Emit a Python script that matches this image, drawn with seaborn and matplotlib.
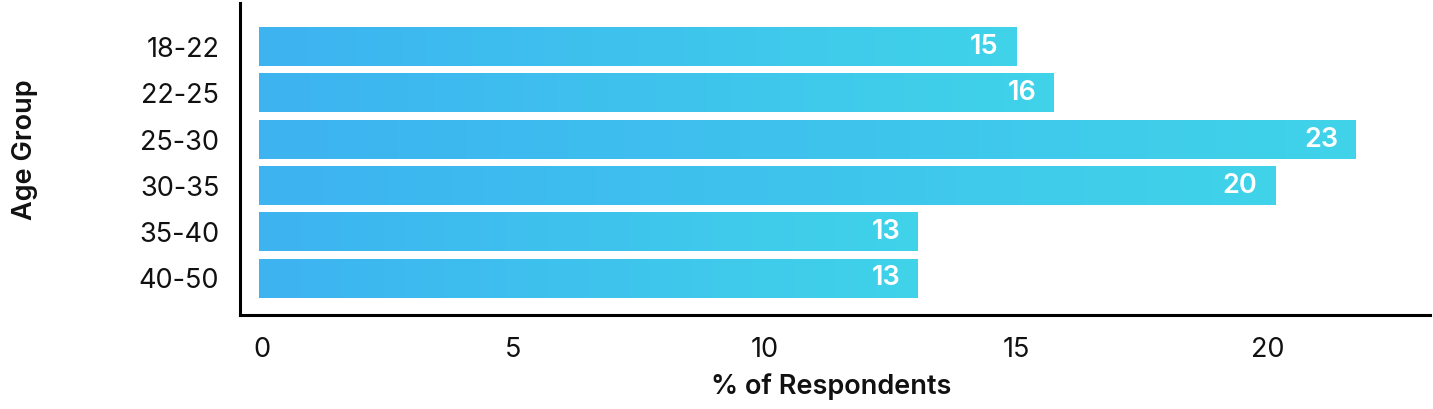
import numpy as np
import pandas as pd
import matplotlib
matplotlib.use("Agg")
import matplotlib.pyplot as plt
import seaborn as sns
from matplotlib.colors import LinearSegmentedColormap

age_groups = ["18-22", "22-25", "25-30", "30-35", "35-40", "40-50"]
bar_lengths = [15.0, 15.75, 21.75, 20.15, 13.05, 13.05]
value_labels = ["15", "16", "23", "20", "13", "13"]
x_ticks = [0, 5, 10, 15, 20]

df = pd.DataFrame({"Age Group": age_groups, "pct": bar_lengths})

sns.set_theme(style="white")
plt.rcParams["font.family"] = ["Inter", "DejaVu Sans"]

fig = plt.figure(figsize=(14.33, 4.09), dpi=100)
ax = fig.add_axes([0.1675, 0.2298, 0.8305, 0.7629])

sns.barplot(data=df, x="pct", y="Age Group", orient="h", color="#3fc0ee",
            width=0.83, ax=ax, saturation=1)

cmap = LinearSegmentedColormap.from_list("g", ["#3db3f1", "#40d3e9"])
grad = np.linspace(0, 1, 256).reshape(1, -1)
for patch, lab in zip(ax.patches, value_labels):
    x0, y0 = patch.get_x(), patch.get_y()
    w, h = patch.get_width(), patch.get_height()
    patch.set_facecolor("none")
    patch.set_edgecolor("none")
    im = ax.imshow(grad, extent=[x0 - 0.05, x0 + w, y0 + h, y0], aspect="auto",
                   cmap=cmap, zorder=2, interpolation="bicubic")
    ax.text(x0 + w - 0.35, y0 + h / 2, lab, color="white", fontsize=19.5,
            fontweight="semibold", ha="right", va="center", zorder=3)

ax.set_xlim(-0.43, 23.23)
ax.set_ylim(5.79, -0.95)
ax.set_xticks(x_ticks)
ax.set_xticklabels([str(t) for t in x_ticks])
ax.tick_params(axis="both", length=0, labelsize=19.5, colors="#111111")
ax.tick_params(axis="x", pad=16)
ax.tick_params(axis="y", pad=15)

ax.set_xlabel("% of Respondents", fontsize=19.5, fontweight="semibold",
              color="#111111", va="center")
ax.xaxis.set_label_coords(0.497, -0.228)
ax.set_ylabel("Age Group", fontsize=19.5, fontweight="semibold",
              color="#111111", va="center")
ax.yaxis.set_label_coords(-0.181, 0.53)

sns.despine(ax=ax)
for s in ["left", "bottom"]:
    ax.spines[s].set_linewidth(2.2)
    ax.spines[s].set_color("black")

fig.savefig("out.png", dpi=100)
